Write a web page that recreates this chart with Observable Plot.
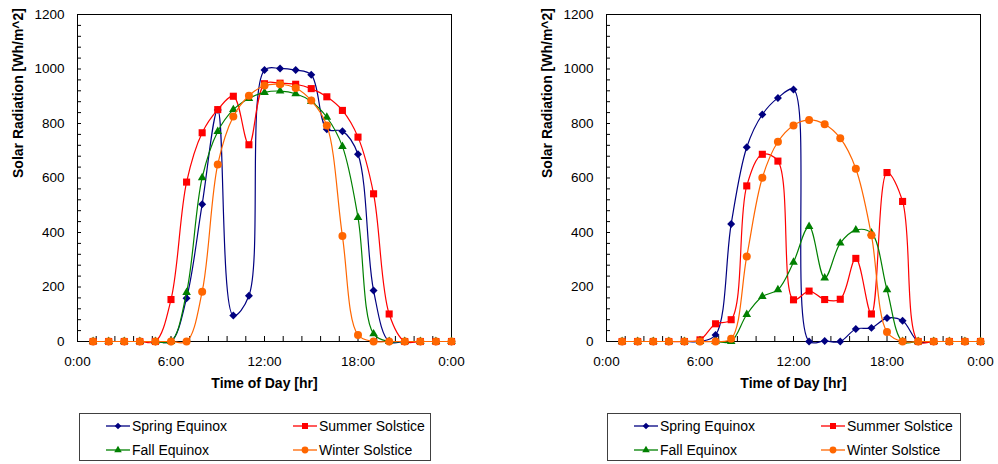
<!DOCTYPE html>
<html>
<head>
<meta charset="utf-8">
<script src="https://cdn.jsdelivr.net/npm/d3@7"></script>
<script src="https://cdn.jsdelivr.net/npm/@observablehq/plot@0.6"></script>
<style>
  html, body { margin: 0; padding: 0; background: #fff; }
  #wrap { position: relative; width: 998px; height: 464px; overflow: hidden; font-family: "Liberation Sans", Arial, sans-serif; }
  .panel { position: absolute; top: 0; }
  .legend { position: absolute; top: 413px; height: 46px; border: 1.5px solid #404040; box-sizing: content-box; }
  .legend svg { display: block; }
</style>
</head>
<body>
<div id="wrap"></div>
<script>
// ---- data ----
const hours = [1,2,3,4,5,6,7,8,9,10,11,12,13,14,15,16,17,18,19,20,21,22,23,24];
const seriesNames = ["Spring Equinox", "Summer Solstice", "Fall Equinox", "Winter Solstice"];
const seriesColors = ["#000080", "#FF0000", "#008000", "#FF6600"];
const seriesSymbols = ["diamond2", "square", "triangle", "circle"];
const xTickValues = [0, 6, 12, 18, 24];
const xTickLabels = ["0:00", "6:00", "12:00", "18:00", "0:00"];
const yTickValues = [0, 200, 400, 600, 800, 1000, 1200];

// Left panel
const leftSpring = [0,0,0,0,0,0,159,504,850,95,168,996,1002,996,979,779,772,687,187,0,0,0,0,0];
const leftSummer = [0,0,0,0,0,154,585,766,851,900,722,946,948,944,928,898,848,750,542,101,0,0,0,0];
const leftFall   = [0,0,0,0,0,0,180,601,771,851,892,914,919,909,881,823,716,455,28,0,0,0,0,0];
const leftWinter = [0,0,0,0,0,0,0,183,650,826,902,939,944,930,884,793,387,24,0,0,0,0,0,0];

// Right panel
const rightSpring = [0,0,0,0,0,0,24,431,713,833,894,925,0,2,0,46,50,86,76,0,0,0,0,0];
const rightSummer = [0,0,0,0,0,6,65,80,571,687,662,153,185,154,155,305,101,620,514,0,0,0,0,0];
const rightFall   = [0,0,0,0,0,0,0,0,99,165,190,291,422,233,361,409,398,190,0,0,0,0,0,0];
const rightWinter = [0,0,0,0,0,0,0,10,312,601,733,793,813,797,746,634,390,35,0,0,0,0,0,0];

const yTitle = "Solar Radiation [Wh/m^2]";
const xTitle = "Time of Day [hr]";

const dotR = [3.6, 4.0, 3.2, 4.0];

function panel(valuesList, marginLeft, marginRight) {
  const marks = [
    Plot.axisY({ticks: d3.range(0, 1201, 40), tickSize: -4, tickFormat: () => "", label: null}),
    Plot.axisY({ticks: yTickValues, tickSize: 0, tickPadding: 13, label: null, fontSize: 13.5, tickFormat: d => String(d)}),
    Plot.axisX({ticks: d3.range(0, 24.001, 1.2), tickSize: -5, tickFormat: () => "", label: null}),
    Plot.axisX({ticks: xTickValues, tickSize: 0, tickPadding: 15, label: null, fontSize: 13.5,
      tickFormat: (d) => xTickLabels[xTickValues.indexOf(d)]}),
    Plot.frame({stroke: "#000", strokeWidth: 1}),
    Plot.text([yTitle], {frameAnchor: "left", dx: -59, rotate: -90, fontWeight: "bold", fontSize: 14, text: d => d}),
    Plot.text([xTitle], {frameAnchor: "bottom", dy: 46, fontWeight: "bold", fontSize: 14, text: d => d})
  ];
  valuesList.forEach((vals, i) => {
    const data = vals.map((v, j) => ({hour: hours[j], value: v}));
    marks.push(Plot.line(data, {x: "hour", y: "value", stroke: seriesColors[i], strokeWidth: 1.2, curve: "catmull-rom"}));
    marks.push(Plot.dot(data, {x: "hour", y: "value", fill: seriesColors[i], stroke: "none", symbol: seriesSymbols[i], r: dotR[i]}));
  });
  return Plot.plot({
    width: 499, height: 400,
    marginLeft, marginRight, marginTop: 14, marginBottom: 59,
    x: {domain: [0, 24]},
    y: {domain: [0, 1200]},
    style: {fontFamily: "'Liberation Sans', Arial, sans-serif", fontSize: "13.5px", color: "#000", background: "#fff", overflow: "visible"},
    marks
  });
}

function legend(left, width) {
  const div = document.createElement("div");
  div.className = "legend";
  div.style.left = left + "px";
  div.style.width = width + "px";
  const ns = "http://www.w3.org/2000/svg";
  const svg = document.createElementNS(ns, "svg");
  svg.setAttribute("width", width);
  svg.setAttribute("height", 46);
  const pos = [[26, 12], [213, 12], [26, 36], [213, 36]];
  const symTypes = [d3.symbolDiamond2, d3.symbolSquare, d3.symbolTriangle, d3.symbolCircle];
  const legR = [3.0, 3.4, 2.8, 3.4];
  seriesNames.forEach((name, i) => {
    const [x, y] = pos[i];
    const g = document.createElementNS(ns, "g");
    g.setAttribute("transform", `translate(${x},${y})`);
    const line = document.createElementNS(ns, "line");
    line.setAttribute("x1", 0); line.setAttribute("x2", 24);
    line.setAttribute("y1", 0); line.setAttribute("y2", 0);
    line.setAttribute("stroke", seriesColors[i]); line.setAttribute("stroke-width", 1.3);
    g.appendChild(line);
    const p = document.createElementNS(ns, "path");
    p.setAttribute("d", d3.symbol(symTypes[i], Math.PI * legR[i] * legR[i])());
    p.setAttribute("transform", "translate(12,0)");
    p.setAttribute("fill", seriesColors[i]);
    g.appendChild(p);
    const t = document.createElementNS(ns, "text");
    t.setAttribute("x", 26); t.setAttribute("y", 0);
    t.setAttribute("dy", "0.35em");
    t.setAttribute("font-size", "14px");
    t.setAttribute("font-family", "'Liberation Sans', Arial, sans-serif");
    t.textContent = name;
    g.appendChild(t);
    svg.appendChild(g);
  });
  div.appendChild(svg);
  return div;
}

const wrap = document.getElementById("wrap");
const left = panel([leftSpring, leftSummer, leftFall, leftWinter], 77, 48);
left.classList.add("panel"); left.style.left = "0px";
const right = panel([rightSpring, rightSummer, rightFall, rightWinter], 107, 18);
right.classList.add("panel"); right.style.left = "499px";
wrap.appendChild(left);
wrap.appendChild(right);
wrap.appendChild(legend(79, 350));
wrap.appendChild(legend(607, 352));
</script>
</body>
</html>
